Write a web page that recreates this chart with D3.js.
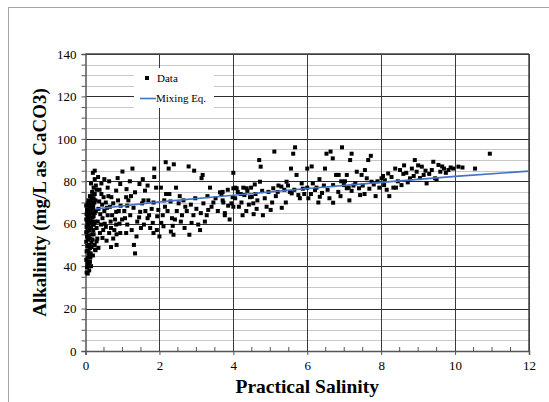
<!DOCTYPE html>
<html><head><meta charset="utf-8">
<script src="https://cdn.jsdelivr.net/npm/d3@7"></script>
<style>body{margin:0;background:#fff}svg{display:block}svg text{font-family:"Liberation Serif","Times New Roman",Times,"DejaVu Serif",serif}</style>
</head><body>
<svg id="c" width="549" height="402"></svg>
<script>
// ---- data ----
const xTicks = [0, 2, 4, 6, 8, 10, 12];
const yTicks = [0, 20, 40, 60, 80, 100, 120, 140];
const xTitle = "Practical Salinity";
const yTitle = "Alkalinity (mg/L as CaCO3)";
const legendLabels = ["Data", "Mixing Eq."];
const mixSalinity = [0.26, 2, 4, 6, 8, 10, 12];
const mixAlkalinity = [66.9, 70.3, 73.4, 76.6, 79.5, 82.3, 84.8];
const dataPoints = [
[0.03,37],[0.06,36.5],[0.1,38],[0.04,39.5],[0.08,41],[0.12,42],[0.02,43],[0.06,44],[0.1,45],[0.14,46],[0.03,47],[0.08,47.5],[0.12,48.5],[0.05,49.5],[0.1,50],[0.16,51],[0.02,51.5],[0.07,52.5],[0.13,53],[0.04,54],[0.09,54.5],[0.18,55],[0.02,56],[0.06,56.5],[0.11,57],[0.15,58],[0.03,58.5],[0.08,59],[0.2,59.5],[0.12,60],[0.05,60.5],[0.17,61],[0.09,61.5],[0.02,62],[0.14,62.5],[0.06,63],[0.22,63.5],[0.1,64],[0.03,64.5],[0.18,65],[0.07,65.5],[0.13,66],[0.04,66.5],[0.2,67],[0.09,67.5],[0.15,68],[0.02,68.5],[0.11,69],[0.06,69.5],[0.18,70],[0.13,70.5],[0.08,71],[0.16,71.5],[0.22,72],[0.12,73],[0.25,74],[0.18,75],[0.3,76],[0.22,77],[0.28,78],[0.15,79],[0.25,81],[0.2,84],[0.25,85],[0.22,55],[0.25,50],[0.2,45],[0.15,40],[0.26,61],[0.28,66],[0.24,70],[0.3,58],[0.32,53],[0.27,47.5],
[0.05,41.5],[0.09,46],[0.13,44],[0.16,49],[0.19,52.5],[0.21,57],[0.23,60],[0.19,63],[0.25,65],[0.21,68.5],[0.17,73],[0.27,71],
[0.51,81],[0.64,80],[0.43,74],[0.49,72.5],[0.55,70],[0.35,67],[0.51,66],[0.6,64],[0.46,62.6],[0.33,61],[0.68,61],[0.42,59.6],[0.55,58.5],[0.39,55.6],[0.64,55.6],[0.46,53.3],[0.3,51.7],[0.35,48.6],[0.26,47.8],[0.69,49],[0.84,50],[0.69,58],[0.78,57],[0.84,55],[0.83,59.6],[0.94,55.6],[0.99,62],[0.83,65.6],[0.75,69.6],[0.88,71],[0.7,72.5],[0.83,75.6],[0.94,78.7],[0.87,81.5],[1.0,84.6],
[0.38,76],[0.45,69],[0.58,67.5],[0.62,73],[0.4,64.5],[0.52,60],[0.72,64],[0.9,66],[0.95,68.5],[0.57,52],[0.75,53],[0.48,57],[0.37,70.5],[0.66,68],[0.8,62],[0.92,60],[0.6,77],[0.43,79],[0.34,82],
[1.11,76.3],[1.1,72.5],[1.16,71],[1.13,68.5],[1.21,64],[1.07,62.6],[1.13,59.6],[1.25,57],[1.1,55.6],[1.31,50],[1.34,46],[1.27,86],[1.34,74.8],[1.4,61],[1.38,54],[1.48,65.6],[1.46,78.7],[1.53,69.6],[1.57,71],[1.61,75.6],[1.68,78],[1.58,59.6],[1.68,62.6],[1.75,58],[1.79,67],[1.7,71],[1.84,70],[1.86,82],[1.86,86],[1.91,77],[1.84,55.6],[1.93,57],[1.82,60.4],[1.94,63.5],[1.97,66.5],
[1.2,80],[1.05,66],[1.45,63],[1.3,67.5],[1.62,66],[1.5,58],[1.23,73],[1.72,64],[1.55,81],
[2.0,54],[2.05,60.4],[2.11,58.8],[2.09,64],[2.15,68],[2.13,71],[2.18,74],[2.25,86],[2.17,89],[2.39,88],[2.27,74],[2.34,62.6],[2.31,56.3],[2.38,54.8],[2.36,59],[2.42,62],[2.47,66],[2.45,77],[2.52,69.6],[2.61,64],[2.65,71],[2.7,68],[2.74,66],[2.79,87],[2.81,54.8],[2.87,60.4],[2.92,64],[2.94,85],
[2.22,66],[2.3,70.5],[2.55,73],[2.58,61],[2.85,69],[2.97,72],[2.04,77],[2.68,58],
[3.0,67],[3.05,59.6],[3.1,57],[3.14,81.5],[3.17,83],[3.19,69.6],[3.23,61],[3.28,64],[3.32,66.5],[3.37,77],[3.41,68],[3.46,70],[3.64,74.8],[3.68,74],[3.77,65],[3.73,70],[3.86,68.5],[3.95,69.6],[4.0,84],[4.05,77],[3.98,72.5],[3.71,75],[3.71,71],[3.77,64],[4.0,68],[4.0,76.7],
[3.52,72],[3.58,66],[3.3,73],[3.85,76],[3.12,65],[3.9,62],
[4.09,76.7],[4.36,76.7],[4.5,72.7],[4.54,69.6],[4.63,67],[4.7,90],[4.74,86.9],[4.72,79.8],[4.8,64],[4.9,68],[5.01,66.5],[4.78,75.5],
[4.12,75],[4.2,74],[4.27,77],[4.3,73.5],[4.38,75.5],[4.45,72.5],[4.48,77],[4.58,78.5],[4.6,74],[4.15,68],[4.22,70],[4.35,66],[4.42,69],[4.55,64.5],[4.65,71],[4.85,72],[4.95,75],[4.25,64],[4.05,72],
[5.11,94],[5.08,76.7],[5.22,78],[5.31,67.5],[5.44,79.8],[5.56,86],[5.62,93],[5.67,96],[5.71,83],[5.58,74.3],[5.76,73.5],[5.85,79],[5.8,72],[5.2,75],[5.3,77.5],[5.38,76],[5.48,78],[5.53,75],[5.15,73],[5.42,70],[5.65,76],[5.92,74],[5.88,76.5],[5.05,70],
[6.0,86],[6.0,77],[6.03,72],[6.12,87],[6.21,75.9],[6.33,81],[6.34,72.7],[6.48,86],[6.52,93],[6.63,94],[6.69,90.8],[6.7,78.2],[6.7,69.9],[6.78,83],[6.84,75],[6.94,96],[6.99,78.2],[6.1,74],[6.25,77],[6.4,74.5],[6.55,76],[6.6,72],[6.15,79],[6.45,78],[6.9,73],[6.92,80],[6.3,70],[6.85,83],
[7.07,76.7],[7.07,83],[7.14,71],[7.16,90],[7.2,93],[7.25,78],[7.34,84.5],[7.43,73.5],[7.4,76.7],[7.47,83],[7.56,85.3],[7.61,81.4],[7.65,90],[7.72,92],[7.74,79.8],[7.02,80],[7.12,77],[7.3,79],[7.5,78],[7.55,74],[7.68,76.5],[7.8,78.5],[7.85,73],[7.9,80],[7.95,77],[7.2,75.5],
[8.01,81.4],[8.08,78.2],[8.19,83.7],[8.22,73],[8.33,77],[8.4,77],[8.51,85.3],[8.55,78.2],[8.6,83.5],[8.78,81.4],[8.83,86],[8.91,90],[8.96,84.5],[8.1,80.5],[8.28,82],[8.45,80],[8.68,84],[8.72,79.5],[8.88,82.5],[8.15,76],[8.38,86],[8.62,87.5],[8.05,82.5],
[9.1,86.9],[9.15,83],[9.23,79],[9.37,85.3],[9.41,89.2],[9.46,81.4],[9.55,87.7],[9.6,84.5],[9.7,86],[9.82,85.3],[9.95,86],[9.05,81.5],[9.3,83.5],[9.5,81],[9.65,87],[9.75,84],[9.88,86.5],[9.2,85],[9.0,87.5],
[10.09,86.9],[10.2,86.5],[10.54,86],[10.94,93]
];

// ---- layout ----
const svg = d3.select("#c");
const L = 85.5, R = 529, T = 54, B = 351;
const x = d3.scaleLinear().domain([0, 12]).range([L, R]);
const y = d3.scaleLinear().domain([0, 140]).range([B, T]);

// outer frame
svg.append("rect").attr("x", 8.5).attr("y", 7.5).attr("width", 560).attr("height", 420)
  .attr("fill", "none").attr("stroke", "#a6a6a6").attr("stroke-width", 1);

// minor horizontal grid
const minorY = d3.range(5, 140, 5).filter(v => v % 20 !== 0);
svg.append("g").selectAll("line").data(minorY).join("line")
  .attr("x1", L).attr("x2", R).attr("y1", d => Math.round(y(d)) + 0.5).attr("y2", d => Math.round(y(d)) + 0.5)
  .attr("stroke", "#c8c8c8").attr("stroke-width", 1);
// major horizontal grid
svg.append("g").selectAll("line").data(yTicks.filter(v => v > 0)).join("line")
  .attr("x1", L).attr("x2", R).attr("y1", d => Math.round(y(d)) + 0.5).attr("y2", d => Math.round(y(d)) + 0.5)
  .attr("stroke", "#2b2b2b").attr("stroke-width", 1);
// vertical major grid
svg.append("g").selectAll("line").data(xTicks.filter(v => v > 0)).join("line")
  .attr("x1", d => Math.round(x(d)) + 0.5).attr("x2", d => Math.round(x(d)) + 0.5).attr("y1", T).attr("y2", B)
  .attr("stroke", "#3a3a3a").attr("stroke-width", 1);

// axes
const yAxis = d3.axisLeft(y).tickValues(d3.range(0, 141, 5)).tickSize(4)
  .tickFormat(d => yTicks.includes(d) ? d : "");
const gy = svg.append("g").attr("transform", `translate(${L},0)`).call(yAxis);
gy.attr("font-family", null);
gy.selectAll("text").attr("font-size", 13).attr("fill", "#000").attr("dx", "-2");
gy.selectAll("line").attr("stroke", "#555");
gy.select(".domain").attr("stroke", "#555").attr("stroke-width", 1.5);

const xAxis = d3.axisBottom(x).tickValues(xTicks).tickSize(4).tickFormat(d => d);
const gx = svg.append("g").attr("transform", `translate(0,${B})`).call(xAxis);
gx.attr("font-family", null);
gx.selectAll("text").attr("font-size", 13).attr("fill", "#000").attr("dy", "0.95em");
gx.selectAll("line").attr("stroke", "#555");
gx.select(".domain").attr("stroke", "#555").attr("stroke-width", 1.5);
// x minor ticks inside
svg.append("g").selectAll("line").data(d3.range(0.5, 12, 0.5).filter(v => v % 2 !== 0)).join("line")
  .attr("x1", d => x(d)).attr("x2", d => x(d)).attr("y1", B).attr("y2", B - 4)
  .attr("stroke", "#555");

// top and right border
svg.append("line").attr("x1", L).attr("x2", R).attr("y1", T).attr("y2", T).attr("stroke", "#444").attr("stroke-width", 1.5);
svg.append("line").attr("x1", R).attr("x2", R).attr("y1", T).attr("y2", B).attr("stroke", "#444").attr("stroke-width", 1.5);

// data points
svg.append("g").selectAll("rect").data(dataPoints).join("rect")
  .attr("x", d => x(d[0]) - 2).attr("y", d => y(d[1]) - 2).attr("width", 4).attr("height", 4)
  .attr("fill", "#000");

// mixing line
const line = d3.line().x(d => x(d[0])).y(d => y(d[1]));
svg.append("path").datum(mixSalinity.map((s, i) => [s, mixAlkalinity[i]]))
  .attr("d", line).attr("fill", "none").attr("stroke", "#4472c4").attr("stroke-width", 1.6);

// legend
const lg = svg.append("g");
lg.append("rect").attr("x", 134).attr("y", 68).attr("width", 80).attr("height", 40).attr("fill", "#fff");
lg.append("rect").attr("x", 145).attr("y", 76).attr("width", 4).attr("height", 4).attr("fill", "#000");
lg.append("text").attr("x", 157).attr("y", 82).text(legendLabels[0]).attr("font-size", 11);
lg.append("line").attr("x1", 140).attr("x2", 156).attr("y1", 98.5).attr("y2", 98.5)
  .attr("stroke", "#4472c4").attr("stroke-width", 1.6);
lg.append("text").attr("x", 156).attr("y", 102).text(legendLabels[1]).attr("font-size", 11);

// titles
svg.append("text").attr("x", (L + R) / 2).attr("y", 393).attr("text-anchor", "middle")
  .attr("font-weight", "bold").attr("font-size", 19.5).text(xTitle);
svg.append("text").attr("transform", `translate(46,${(T + B) / 2}) rotate(-90)`).attr("text-anchor", "middle")
  .attr("font-weight", "bold").attr("font-size", 19).text(yTitle);
</script>
</body></html>
